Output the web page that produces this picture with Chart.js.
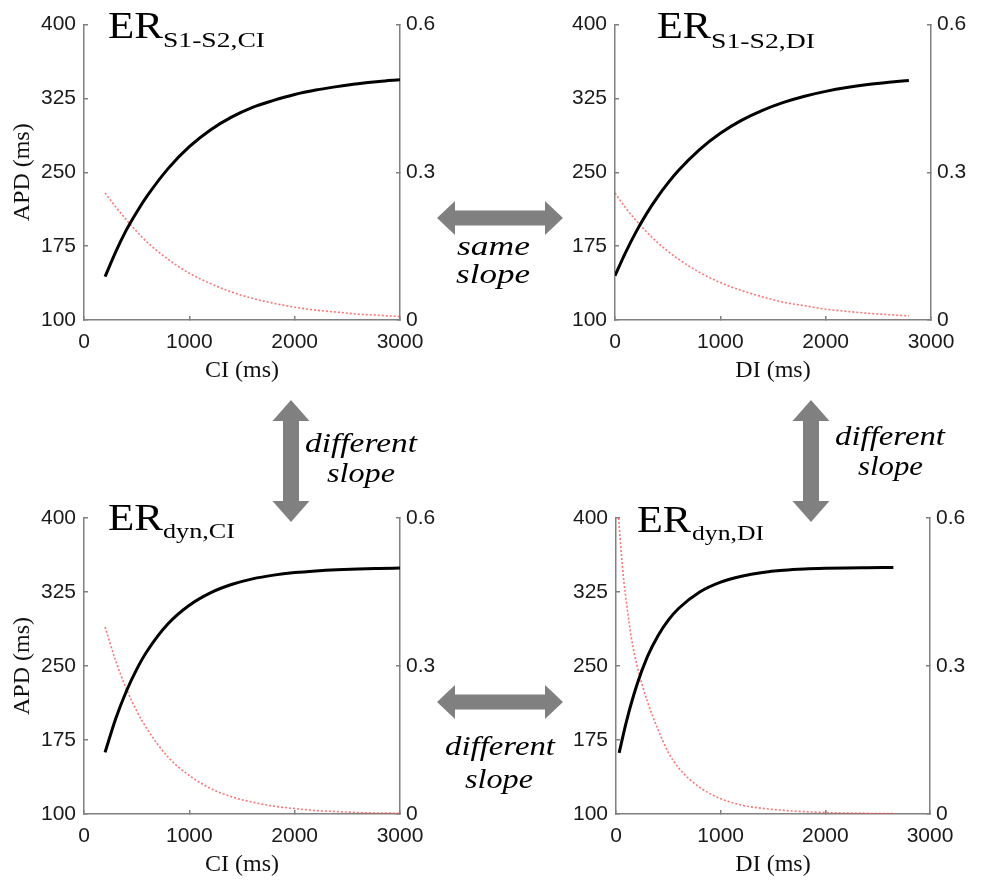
<!DOCTYPE html>
<html>
<head>
<meta charset="utf-8">
<script src="https://cdn.jsdelivr.net/npm/chart.js@4/dist/chart.umd.min.js"></script>
<style>
  html, body { margin: 0; padding: 0; background: #fff; overflow: hidden; width: 984px; height: 883px; }
  canvas { position: absolute; }
  #overlay { position: absolute; left: 0; top: 0; pointer-events: none; }
</style>
</head>
<body>
<canvas id="pA" width="470" height="389" style="left:0;top:0"></canvas>
<canvas id="pB" width="454" height="389" style="left:530px;top:0"></canvas>
<canvas id="pC" width="470" height="393" style="left:0;top:490px"></canvas>
<canvas id="pD" width="454" height="393" style="left:530px;top:490px"></canvas>

<svg id="overlay" width="984" height="883" viewBox="0 0 984 883">
  <g id="arrows" fill="#808080"></g>
  <g font-family="'Liberation Serif', 'Times New Roman', serif" font-style="italic" font-size="27" fill="#000">
    <text x="457" y="255" textLength="73" lengthAdjust="spacingAndGlyphs">same</text>
    <text x="456" y="283" textLength="74" lengthAdjust="spacingAndGlyphs">slope</text>
    <text x="305" y="452" textLength="112" lengthAdjust="spacingAndGlyphs">different</text>
    <text x="327" y="482" textLength="68" lengthAdjust="spacingAndGlyphs">slope</text>
    <text x="835" y="445" textLength="110" lengthAdjust="spacingAndGlyphs">different</text>
    <text x="858" y="475" textLength="65" lengthAdjust="spacingAndGlyphs">slope</text>
    <text x="445" y="755" textLength="110" lengthAdjust="spacingAndGlyphs">different</text>
    <text x="465" y="788" textLength="68" lengthAdjust="spacingAndGlyphs">slope</text>
  </g>
  <g font-family="'Liberation Serif', 'Times New Roman', serif" fill="#000">
    <text x="108" y="37.5" font-size="37" textLength="55" lengthAdjust="spacingAndGlyphs">ER</text>
    <text x="163" y="47" font-size="22" textLength="102" lengthAdjust="spacingAndGlyphs">S1-S2,CI</text>
    <text x="657" y="38" font-size="37" textLength="54" lengthAdjust="spacingAndGlyphs">ER</text>
    <text x="711" y="47.5" font-size="22" textLength="104" lengthAdjust="spacingAndGlyphs">S1-S2,DI</text>
    <text x="108" y="529.5" font-size="37" textLength="55" lengthAdjust="spacingAndGlyphs">ER</text>
    <text x="163" y="538" font-size="22" textLength="72" lengthAdjust="spacingAndGlyphs">dyn,CI</text>
    <text x="637" y="531.5" font-size="37" textLength="54" lengthAdjust="spacingAndGlyphs">ER</text>
    <text x="692" y="540" font-size="22" textLength="72" lengthAdjust="spacingAndGlyphs">dyn,DI</text>
  </g>
</svg>

<script>
// ---- ER_S1-S2,CI : APD and restitution slope vs coupling interval ----
const ciA    = [200, 300, 400, 500, 600, 800, 1000, 1200, 1400, 1600, 1800, 2000, 2200, 2400, 2600, 2800, 3000];
const apdA   = [144, 169, 191, 209.5, 226, 254, 276, 293, 306, 316, 323, 329, 333.5, 337, 340, 342.3, 344];
const slopeA = [0.258, 0.230, 0.204, 0.180, 0.158, 0.123, 0.095, 0.074, 0.057, 0.044, 0.034, 0.026, 0.020, 0.016, 0.012, 0.0095, 0.007];

// ---- ER_S1-S2,DI : APD and restitution slope vs diastolic interval ----
const diB    = [0, 100, 200, 300, 400, 500, 600, 800, 1000, 1200, 1400, 1600, 1800, 2000, 2200, 2400, 2600, 2790];
const apdB   = [145, 168.5, 189.5, 208, 224.3, 238.7, 251.5, 272.8, 289.6, 302.7, 312.9, 321, 327.3, 332.2, 336.1, 339.1, 341.4, 343.2];
const slopeB = [0.258, 0.228, 0.202, 0.179, 0.158, 0.140, 0.124, 0.097, 0.076, 0.060, 0.047, 0.036, 0.029, 0.022, 0.0175, 0.0137, 0.0108, 0.0084];

// ---- ER_dyn,CI ----
const ciC    = [200, 300, 400, 500, 600, 800, 1000, 1200, 1400, 1600, 1800, 2000, 2200, 2400, 2600, 2800, 3000];
const apdC   = [162.5, 196.2, 223.9, 246.6, 265.2, 293, 311.6, 324.2, 332.6, 338.3, 342.1, 344.7, 346.4, 347.6, 348.4, 348.9, 349.3];
const slopeC = [0.379, 0.311, 0.255, 0.209, 0.172, 0.115, 0.078, 0.052, 0.035, 0.024, 0.016, 0.011, 0.007, 0.005, 0.003, 0.002, 0.0015];

// ---- ER_dyn,DI ----
const diD       = [30, 100, 200, 300, 400, 500, 600, 800, 1000, 1200, 1400, 1600, 1800, 2000, 2200, 2400, 2650];
const apdD      = [162, 194, 231, 259.5, 280.5, 296.5, 308.5, 325, 335, 341, 344.8, 347, 348.3, 349, 349.4, 349.6, 349.8];
const diSlopeD  = [25, 50, 75, 100, 150, 200, 250, 300, 400, 500, 600, 800, 1000, 1200, 1400, 1700, 2000, 2300, 2650];
const slopeD    = [0.600, 0.530, 0.472, 0.428, 0.353, 0.302, 0.262, 0.228, 0.172, 0.125, 0.093, 0.054, 0.031, 0.018, 0.0115, 0.006, 0.003, 0.0015, 0.0007];

// axis ticks
const xTicks   = [0, 1000, 2000, 3000];
const apdTicks = [100, 175, 250, 325, 400];
const slpTicks = [0, 0.3, 0.6];

const axisGray  = '#808080';
const tickColor = '#1a1a1a';
const tickFont  = { family: "'Liberation Sans', Arial, sans-serif", size: 21 };
const labelFont = { family: "'Liberation Serif', 'Times New Roman', serif", size: 24 };

const pts = (xs, ys) => xs.map((x, i) => ({ x: x, y: ys[i] }));

function panel(id, g, xTitle, yTitle, apdX, apdY, slpX, slpY) {
  const gridOpts = { drawOnChartArea: false, drawTicks: true, tickLength: -4, color: axisGray, lineWidth: 1.5 };
  const borderOpts = { display: true, color: axisGray, width: 1.5 };
  new Chart(document.getElementById(id), {
    type: 'line',
    data: {
      datasets: [
        { data: pts(apdX, apdY), yAxisID: 'y', borderColor: '#000', borderWidth: 3,
          pointRadius: 0, cubicInterpolationMode: 'monotone', order: 0 },
        { data: pts(slpX, slpY), yAxisID: 'y2', borderColor: 'rgba(255,70,70,0.75)', borderWidth: 1.6,
          borderDash: [2, 2], pointRadius: 0, cubicInterpolationMode: 'monotone', order: 1 }
      ]
    },
    options: {
      responsive: false, animation: false, devicePixelRatio: 1,
      layout: { padding: { top: g.top, left: 0, right: 0, bottom: 0 } },
      plugins: { legend: { display: false }, tooltip: { enabled: false } },
      scales: {
        x: {
          type: 'linear', position: 'bottom', min: xTicks[0], max: xTicks[xTicks.length - 1],
          afterBuildTicks: s => { s.ticks = xTicks.map(v => ({ value: v })); },
          ticks: { font: tickFont, color: tickColor, padding: 14, maxRotation: 0, callback: v => String(v) },
          grid: gridOpts, border: borderOpts,
          title: { display: true, text: xTitle, font: labelFont, color: '#111', padding: { top: 0, bottom: 3.6 } },
          afterFit: s => { s.height = g.xh; }
        },
        y: {
          type: 'linear', position: 'left', min: apdTicks[0], max: apdTicks[apdTicks.length - 1],
          afterBuildTicks: s => { s.ticks = apdTicks.map(v => ({ value: v })); },
          ticks: { font: tickFont, color: tickColor, padding: 12, callback: v => String(v) },
          grid: gridOpts, border: borderOpts,
          title: { display: !!yTitle, text: yTitle || '', font: labelFont, color: '#111', padding: { top: 8.6, bottom: 0 } },
          afterFit: s => { s.width = g.left; }
        },
        y2: {
          type: 'linear', position: 'right', min: slpTicks[0], max: slpTicks[slpTicks.length - 1],
          afterBuildTicks: s => { s.ticks = slpTicks.map(v => ({ value: v })); },
          ticks: { font: tickFont, color: tickColor, padding: 10, callback: v => (v === 0 ? '0' : v.toFixed(1)) },
          grid: gridOpts, border: borderOpts,
          afterFit: s => { s.width = g.right; }
        }
      }
    }
  });
}

panel('pA', { top: 23, left: 84, right: 70, xh: 69 }, 'CI (ms)', 'APD (ms)', ciA, apdA, ciA, slopeA);
panel('pB', { top: 23, left: 85, right: 53, xh: 69 }, 'DI (ms)', null, diB, apdB, diB, slopeB);
panel('pC', { top: 28, left: 84, right: 70, xh: 69 }, 'CI (ms)', 'APD (ms)', ciC, apdC, ciC, slopeC);
panel('pD', { top: 28, left: 86, right: 54, xh: 69 }, 'DI (ms)', null, diD, apdD, diSlopeD, slopeD);

// grey double-headed arrows linking the panels
(function () {
  const NS = 'http://www.w3.org/2000/svg';
  const g = document.getElementById('arrows');
  function add(points) {
    const p = document.createElementNS(NS, 'polygon');
    p.setAttribute('points', points.map(q => q.join(',')).join(' '));
    g.appendChild(p);
  }
  function hArrow(x1, x2, cy) {
    const s = 7.5, h = 17, L = 18;
    add([[x1, cy], [x1 + L, cy - h], [x1 + L, cy - s], [x2 - L, cy - s], [x2 - L, cy - h], [x2, cy],
         [x2 - L, cy + h], [x2 - L, cy + s], [x1 + L, cy + s], [x1 + L, cy + h]]);
  }
  function vArrow(cx, y1, y2) {
    const s = 8, h = 18.5, L = 21;
    add([[cx, y1], [cx + h, y1 + L], [cx + s, y1 + L], [cx + s, y2 - L], [cx + h, y2 - L], [cx, y2],
         [cx - h, y2 - L], [cx - s, y2 - L], [cx - s, y1 + L], [cx - h, y1 + L]]);
  }
  hArrow(437, 563, 218);
  hArrow(437, 563, 702);
  vArrow(291, 400, 522);
  vArrow(811, 400, 522);
})();
</script>
</body>
</html>
